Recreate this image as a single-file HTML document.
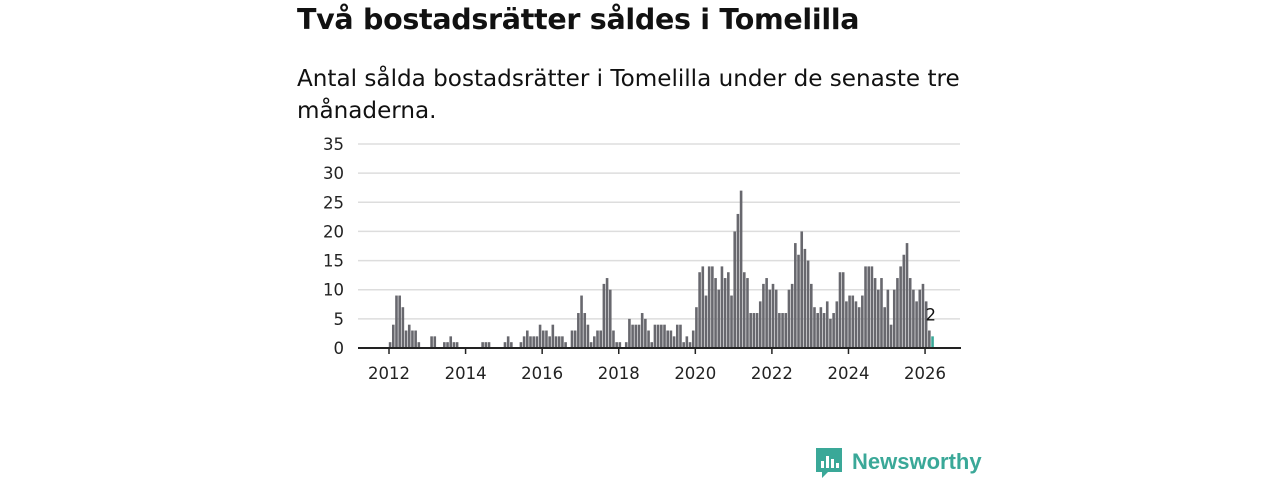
<!DOCTYPE html>
<html><head><meta charset="utf-8"><style>
body{margin:0;width:1280px;height:480px;background:#fff;font-family:"DejaVu Sans","Liberation Sans",sans-serif;color:#111;overflow:hidden;position:relative}
h1{position:absolute;left:297px;top:3px;margin:0;font-size:28.5px;font-weight:bold;letter-spacing:-0.3px}
p.sub{position:absolute;left:297px;top:63px;margin:0;font-size:23.1px;line-height:32px;width:720px}
svg{position:absolute;left:0;top:0}
</style></head><body>
<h1>Två bostadsrätter såldes i Tomelilla</h1>
<p class="sub">Antal sålda bostadsrätter i Tomelilla under de senaste tre månaderna.</p>
<svg id="c" width="1280" height="480"></svg>
<script>
const startYear=2012;
const values2012=[1,4,9,9,7,3,4,3,3,1,0,0];
const values2013=[0,2,2,0,0,1,1,2,1,1,0,0];
const values2014=[0,0,0,0,0,1,1,1,0,0,0,0];
const values2015=[1,2,1,0,0,1,2,3,2,2,2,4];
const values2016=[3,3,2,4,2,2,2,1,0,3,3,6];
const values2017=[9,6,4,1,2,3,3,11,12,10,3,1];
const values2018=[1,0,1,5,4,4,4,6,5,3,1,4];
const values2019=[4,4,4,3,3,2,4,4,1,2,1,3];
const values2020=[7,13,14,9,14,14,12,10,14,12,13,9];
const values2021=[20,23,27,13,12,6,6,6,8,11,12,10];
const values2022=[11,10,6,6,6,10,11,18,16,20,17,15];
const values2023=[11,7,6,7,6,8,5,6,8,13,13,8];
const values2024=[9,9,8,7,9,14,14,14,12,10,12,7];
const values2025=[10,4,10,12,14,16,18,12,10,8,10,11];
const values2026=[8,3,2];
const yTicks=[0,5,10,15,20,25,30,35];
const xTickYears=[2012,2014,2016,2018,2020,2022,2024,2026];
const all=[].concat(values2012,values2013,values2014,values2015,values2016,values2017,values2018,values2019,values2020,values2021,values2022,values2023,values2024,values2025,values2026);
const svg=document.getElementById('c');const NS='http://www.w3.org/2000/svg';
const FF='DejaVu Sans, Liberation Sans, sans-serif';
const x0=389,pxYear=38.29,y0=348,pxUnit=204/35;
const xs=m=>x0+m*pxYear/12;
const ys=v=>y0-v*pxUnit;
function mk(t,a,txt){const e=document.createElementNS(NS,t);for(const k in a)e.setAttribute(k,a[k]);if(txt!=null)e.textContent=txt;svg.appendChild(e);return e;}
yTicks.forEach(v=>{
 if(v>0){const g=mk('line',{x1:358,x2:960,y1:ys(v),y2:ys(v),stroke:'#ddd','stroke-width':1.5});
 
 }
 const t=mk('text',{x:344,y:ys(v)+6,'text-anchor':'end','font-size':16.5,fill:'#222','font-family':FF},v);
 
 
});
all.forEach((v,i)=>{
 const last=i===all.length-1;
 const r=mk('rect',{x:xs(i)-0.2,y:ys(v),width:2.6,height:v*pxUnit,fill:last?'#3aa898':'#68686e'});
 
 
 if(last){const l=mk('text',{x:xs(i)-6,y:ys(v)-16,'font-size':16.5,fill:'#111','font-family':FF},v);
 
 }
});
const ax=mk('line',{x1:358,x2:961,y1:y0,y2:y0,stroke:'#222','stroke-width':2});


xTickYears.forEach(yr=>{
 const x=xs((yr-startYear)*12);
 const tk=mk('line',{x1:x,x2:x,y1:y0,y2:y0+6,stroke:'#222','stroke-width':1.5});
 
 
 const t=mk('text',{x:x,y:379,'text-anchor':'middle','font-size':16.5,fill:'#222','font-family':FF},yr);
 
 
});
</script>
<svg width="1280" height="480" style="position:absolute;left:0;top:0">
 <path d="M816 448h26v24h-14l-6 6v-6h-6z" fill="#3aa898"/>
 <rect x="821" y="461" width="3" height="7" fill="#fff"/><rect x="826" y="456" width="3" height="12" fill="#fff"/><rect x="831" y="459" width="3" height="9" fill="#fff"/><rect x="836" y="463" width="3" height="5" fill="#fff"/>
 <text x="852" y="469" font-size="22" font-weight="bold" fill="#3aa898" font-family="Liberation Sans, sans-serif">Newsworthy</text>
</svg>
</body></html>
